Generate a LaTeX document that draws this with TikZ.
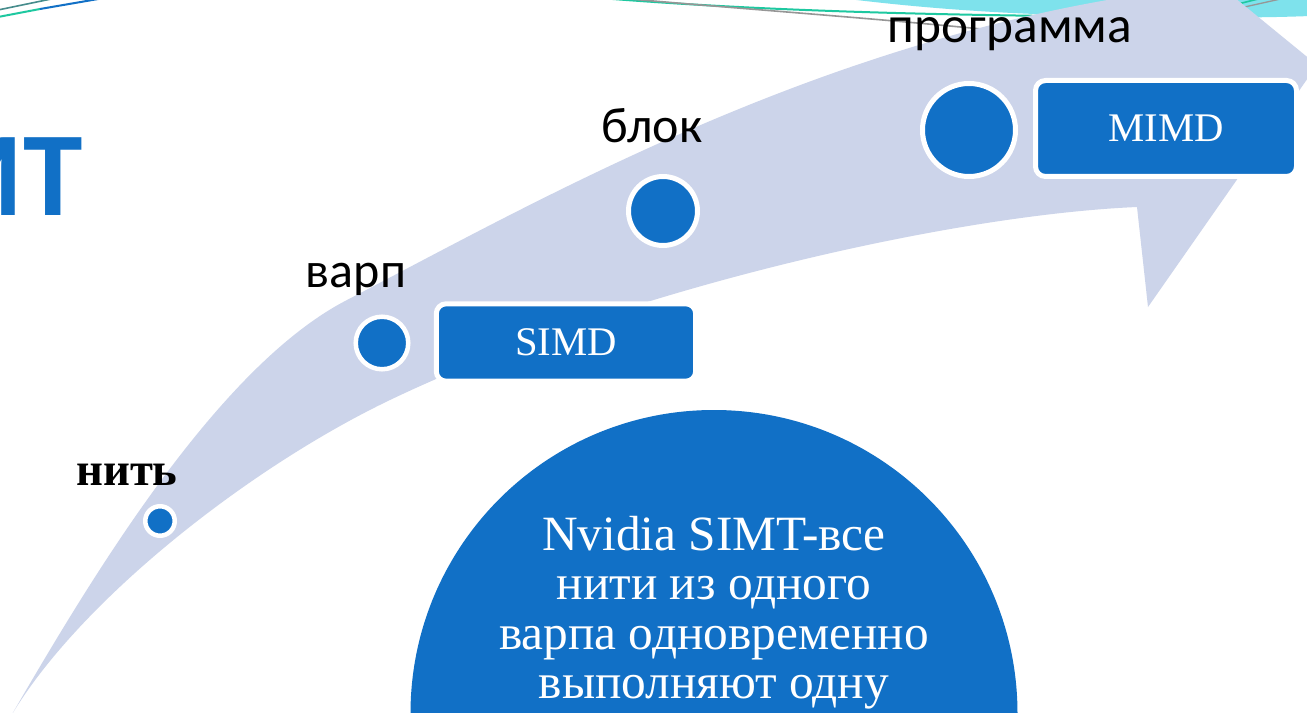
\documentclass[tikz,border=0pt]{standalone}
\usepackage{fontspec}
\setmainfont{Liberation Serif}
\newfontfamily\calibri{Carlito}
\definecolor{arrowc}{RGB}{204,212,234}
\definecolor{bluec}{RGB}{17,112,198}
\definecolor{cyanband}{RGB}{126,226,236}
\definecolor{greenline}{RGB}{30,200,160}
\definecolor{grayline}{RGB}{150,150,150}
\definecolor{tealgray}{RGB}{70,140,140}
\begin{document}
\begin{tikzpicture}[x=0.75pt,y=-0.75pt,
  dot/.style={circle, fill=bluec, draw=white, inner sep=0pt},
  box/.style={rectangle, rounded corners=7.5pt, fill=bluec, draw=white, line width=3.75pt, text=white, font=\fontsize{30.5}{36}\selectfont, inner sep=0pt},
  lbl/.style={font=\calibri\fontsize{37.5}{45}\selectfont, anchor=base, inner sep=0pt},
]
\useasboundingbox (0,0) rectangle (1307,713);
\clip (0,0) rectangle (1307,713);
\fill[white] (0,0) rectangle (1307,713);
% top decorations
\fill[cyanband] (840,-2) .. controls (920,8) and (1000,14) .. (1100,16) .. controls (1200,18) and (1260,18) .. (1310,16) -- (1310,-2) -- cycle;
\draw[greenline, line width=1.5pt] (600,-2) .. controls (750,10) and (900,14) .. (1050,16);
\draw[grayline, line width=1.2pt] (630,-1) .. controls (780,12) and (900,20) .. (1050,36);
\draw[tealgray, line width=1.2pt] (-2,10) -- (56,-2);
\draw[greenline, line width=1.5pt] (-2,17) -- (40,9);
\draw[bluec, line width=1.5pt] (40,9) -- (104,-2);
\draw[greenline, line width=1.2pt] (1238,4) -- (1262,-2);
\draw[grayline, line width=1pt] (1240,8) -- (1285,-2);
% big curved arrow
\fill[arrowc] (11,716) .. controls (90,580) and (217,367) .. (347,300)
  .. controls (530,205) and (800,50) .. (1125,-3)
  -- (1125,-92) -- (1317,65) -- (1148,307) -- (1137,207)
  .. controls (950,215) and (620,290) .. (390,400)
  .. controls (250,467) and (80,600) .. (11,716) -- cycle;
% title fragment
\node[font=\calibri\bfseries\fontsize{90}{100}\selectfont, text=bluec, anchor=base east, inner sep=0pt] (title) at (83,216) {SIMT};
% dots
\node[dot, minimum size=22.1pt, line width=3.4pt] (nit) at (160,521) {};
\node[dot, minimum size=39.4pt, line width=3.4pt] (varp) at (382,343) {};
\node[dot, minimum size=51.75pt, line width=3.75pt] (blok) at (663,211) {};
\node[dot, minimum size=69.75pt, line width=3.75pt] (prog) at (969,130) {};
% boxes
\node[box, minimum width=194.6pt, minimum height=58.1pt] (simd) at (566,342.5) {SIMD};
\node[box, minimum width=195.75pt, minimum height=72pt] (mimd) at (1166,128.5) {MIMD};
% labels
\node[font=\bfseries\fontsize{35}{40}\selectfont, anchor=base, inner sep=0pt] (nitl) at (127,485) {нить};
\node[lbl] (varpl) at (356,287) {варп};
\node[lbl] (blokl) at (652,143) {блок};
\node[lbl, font=\calibri\fontsize{38.5}{45}\selectfont] (progl) at (1010,43) {программа};
% big circle
\node[circle, fill=bluec, minimum size=455.25pt, inner sep=0pt] (bigc) at (714,713.5) {};
\node[text=white, align=center, font=\fontsize{37}{37.1}\selectfont, anchor=north, inner sep=0pt] (bigtxt) at (714,516) {Nvidia SIMT-все\\нити из одного\\варпа одновременно\\выполняют одну};
\end{tikzpicture}
\end{document}
